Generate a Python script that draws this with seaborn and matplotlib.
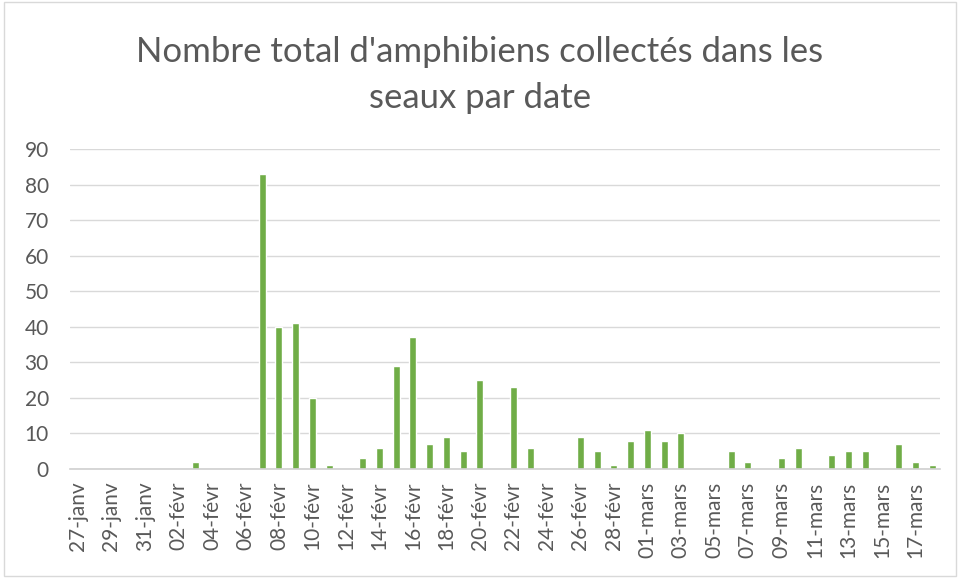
import matplotlib
matplotlib.use("Agg")
import matplotlib.pyplot as plt
import seaborn as sns
import pandas as pd
from matplotlib.patches import Rectangle

# --- data ---
dates = (["27-janv", "28-janv", "29-janv", "30-janv", "31-janv"]
         + [f"{d:02d}-févr" for d in range(1, 30)]
         + [f"{d:02d}-mars" for d in range(1, 19)])
counts_janv = [0, 0, 0, 0, 0]
counts_fevr = [0, 0, 2, 0, 0, 0, 83, 40, 41, 20, 1, 0, 3, 6, 29, 37, 7, 9, 5, 25,
               0, 23, 6, 0, 0, 9, 5, 1, 8]
counts_mars = [11, 8, 10, 0, 0, 5, 2, 0, 3, 6, 0, 4, 5, 5, 0, 7, 2, 1]
counts = counts_janv + counts_fevr + counts_mars
title = "Nombre total d'amphibiens collectés dans les\nseaux par date"
yticks = [0, 10, 20, 30, 40, 50, 60, 70, 80, 90]

df = pd.DataFrame({"date": dates, "n": counts})

sns.set_theme(style="white")
plt.rcParams['font.family'] = ['Lato', 'DejaVu Sans']

fig = plt.figure(figsize=(9.6, 5.78), dpi=100)
ax = fig.add_axes([0.0725, 0.1886, 0.9071, 0.5536])

sns.barplot(data=df, x="date", y="n", color="#70AD47", width=0.42,
            saturation=1, ax=ax, order=dates)

ax.set_ylim(0, 90)
ax.set_yticks(yticks)
ax.yaxis.grid(True, color="#d9d9d9", linewidth=1)
ax.set_axisbelow(True)
for s in ["top", "right", "left"]:
    ax.spines[s].set_visible(False)
ax.spines["bottom"].set_color("#d0d0d0")
ax.spines["bottom"].set_linewidth(1.2)

ax.set_xticks(range(0, len(dates), 2))
ax.set_xticklabels(dates[::2], rotation=90)
ax.set_xlim(-0.5, len(dates) - 0.5)
ax.tick_params(axis="x", length=0, pad=9, labelsize=15, labelcolor="#595959")
ax.tick_params(axis="y", length=0, pad=15, labelsize=15, labelcolor="#595959")
ax.set_xlabel("")
ax.set_ylabel("")

fig.text(0.5, 0.870, title, ha="center", va="center", fontsize=25,
         color="#595959", linespacing=1.55)

fig.patches.append(Rectangle((0.004, 0.004), 0.992, 0.992, transform=fig.transFigure,
                             fill=False, edgecolor="#d9d9d9", linewidth=1))

fig.savefig("out.png", dpi=100)
